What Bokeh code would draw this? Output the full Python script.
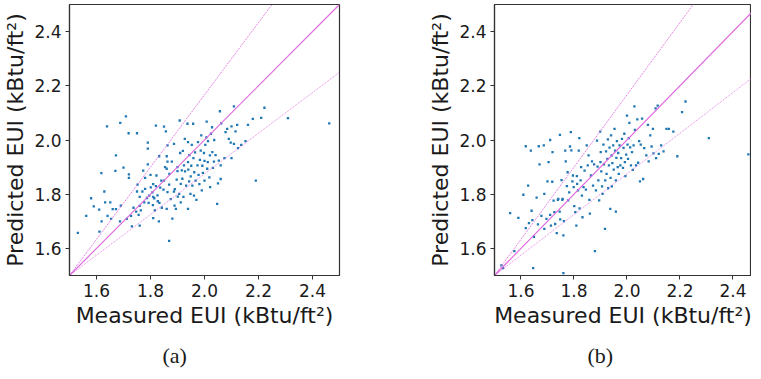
from bokeh.plotting import figure
from bokeh.layouts import row
from bokeh.models import Title, Range1d, FixedTicker
from bokeh.embed import file_html
from bokeh.resources import INLINE

# ---- data ----
meas_a = [1.531, 1.562, 1.58, 1.59, 1.61, 1.618, 1.611, 1.619, 1.629, 1.639, 1.632, 1.641, 1.651, 1.654,
          1.66, 1.67, 1.672, 1.672, 1.688, 1.687, 1.69, 1.70, 1.709, 1.712, 1.719, 1.72, 1.72, 1.728,
          1.731, 1.737, 1.747, 1.75, 1.75, 1.752, 1.756, 1.76, 1.76, 1.76, 1.764, 1.77, 1.773, 1.777,
          1.78, 1.78, 1.79, 1.79, 1.79, 1.787, 1.793, 1.795, 1.80, 1.801, 1.807, 1.809, 1.81, 1.81,
          1.81, 1.814, 1.816, 1.82, 1.82, 1.822, 1.826, 1.827, 1.831, 1.832, 1.833, 1.836, 1.84, 1.842,
          1.848, 1.85, 1.85, 1.854, 1.857, 1.86, 1.86, 1.863, 1.86, 1.863, 1.863, 1.869, 1.87, 1.869,
          1.875, 1.881, 1.879, 1.887, 1.887, 1.889, 1.89, 1.894, 1.897, 1.9, 1.9, 1.901, 1.906, 1.908,
          1.91, 1.912, 1.912, 1.916, 1.918, 1.92, 1.922, 1.924, 1.927, 1.928, 1.932, 1.937, 1.939, 1.939,
          1.939, 1.94, 1.943, 1.944, 1.948, 1.949, 1.953, 1.951, 1.955, 1.958, 1.959, 1.961, 1.962, 1.965,
          1.967, 1.97, 1.974, 1.976, 1.978, 1.981, 1.983, 1.986, 1.988, 1.99, 1.992, 1.994, 1.998, 2.0,
          2.0, 2.003, 2.007, 2.008, 2.01, 2.012, 2.013, 2.018, 2.02, 2.021, 2.024, 2.028, 2.029, 2.031,
          2.035, 2.036, 2.041, 2.047, 2.05, 2.053, 2.057, 2.06, 2.06, 2.062, 2.074, 2.078, 2.084, 2.09,
          2.097, 2.1, 2.1, 2.109, 2.109, 2.115, 2.121, 2.124, 2.136, 2.152, 2.161, 2.179, 2.19, 2.21,
          2.222, 2.309, 2.462]
pred_a = [1.657, 1.72, 1.785, 1.755, 1.743, 1.878, 1.662, 1.70, 1.81, 2.05, 1.77, 1.72, 1.77, 1.709,
          1.745, 1.886, 1.943, 1.745, 2.063, 1.70, 1.758, 1.898, 2.087, 1.709, 2.025, 1.86, 1.873, 1.72,
          1.681, 1.75, 1.736, 2.025, 1.81, 1.835, 1.724, 1.757, 1.79, 1.684, 1.74, 1.81, 1.887, 1.77,
          1.82, 1.86, 1.99, 1.968, 1.91, 1.786, 1.768, 1.795, 1.871, 1.825, 1.807, 1.76, 1.837, 1.79,
          1.712, 1.785, 1.74, 2.053, 1.83, 1.869, 1.796, 1.774, 1.70, 1.94, 1.768, 1.824, 1.85, 1.75,
          1.817, 2.049, 1.85, 1.9, 2.032, 1.94, 1.746, 1.92, 1.894, 1.98, 1.808, 1.835, 1.875, 1.628,
          1.782, 1.71, 1.92, 1.81, 1.986, 1.758, 1.819, 1.746, 1.854, 1.9, 1.885, 1.791, 1.801, 2.072,
          1.952, 1.838, 1.77, 1.888, 1.857, 1.96, 1.79, 1.906, 2.004, 1.884, 1.832, 2.06, 1.992, 1.918,
          1.746, 1.891, 1.847, 1.944, 1.801, 1.866, 1.982, 1.905, 1.832, 2.06, 1.933, 1.795, 1.881, 1.954,
          1.85, 1.779, 1.906, 1.992, 1.871, 1.837, 1.927, 1.961, 2.017, 1.814, 1.905, 1.879, 1.952, 1.85,
          1.923, 1.982, 2.01, 2.068, 1.894, 1.918, 1.996, 1.862, 1.943, 1.826, 2.023, 2.047, 1.955, 1.897,
          1.92, 2.0, 1.944, 1.764, 1.84, 1.924, 2.106, 1.906, 1.856, 2.061, 1.933, 2.029, 2.041, 2.004,
          1.99, 2.05, 1.933, 2.124, 1.986, 2.032, 2.056, 1.97, 1.982, 1.996, 2.056, 2.078, 1.85, 2.082,
          2.119, 2.081, 2.061]

meas_b = [1.526, 1.532, 1.559, 1.575, 1.59, 1.609, 1.618, 1.618, 1.627, 1.63, 1.637, 1.64, 1.643, 1.646,
          1.649, 1.659, 1.664, 1.667, 1.67, 1.677, 1.686, 1.688, 1.688, 1.696, 1.70, 1.704, 1.71, 1.71,
          1.713, 1.718, 1.719, 1.723, 1.726, 1.729, 1.735, 1.739, 1.741, 1.746, 1.747, 1.748, 1.753, 1.756,
          1.757, 1.76, 1.76, 1.762, 1.767, 1.769, 1.773, 1.776, 1.778, 1.782, 1.785, 1.788, 1.79, 1.794,
          1.796, 1.799, 1.801, 1.805, 1.809, 1.811, 1.812, 1.815, 1.818, 1.82, 1.821, 1.825, 1.827, 1.83,
          1.832, 1.836, 1.84, 1.845, 1.848, 1.852, 1.855, 1.858, 1.86, 1.864, 1.868, 1.872, 1.876, 1.879,
          1.883, 1.887, 1.889, 1.892, 1.895, 1.899, 1.9, 1.901, 1.903, 1.906, 1.908, 1.911, 1.913, 1.917,
          1.918, 1.921, 1.923, 1.926, 1.928, 1.929, 1.932, 1.934, 1.937, 1.938, 1.94, 1.942, 1.943, 1.945,
          1.948, 1.95, 1.953, 1.955, 1.958, 1.958, 1.96, 1.962, 1.965, 1.967, 1.969, 1.972, 1.975, 1.978,
          1.981, 1.985, 1.987, 1.99, 1.992, 1.994, 1.997, 2.0, 2.002, 2.004, 2.007, 2.009, 2.012, 2.015,
          2.019, 2.022, 2.025, 2.028, 2.03, 2.034, 2.039, 2.042, 2.046, 2.049, 2.052, 2.057, 2.061, 2.065,
          2.073, 2.079, 2.082, 2.088, 2.093, 2.098, 2.1, 2.108, 2.11, 2.116, 2.12, 2.129, 2.138, 2.149,
          2.158, 2.175, 2.19, 2.208, 2.221, 2.309, 2.458]
pred_b = [1.537, 1.527, 1.73, 1.59, 1.713, 1.798, 1.977, 1.675, 1.832, 1.693, 1.961, 1.739, 1.704, 1.527,
          1.643, 1.787, 1.689, 1.977, 1.91, 1.72, 1.98, 1.801, 1.672, 1.709, 1.847, 1.918, 1.724, 2.0,
          1.684, 1.846, 1.955, 1.776, 1.734, 1.69, 1.656, 1.779, 1.783, 1.736, 2.019, 1.707, 1.852, 1.779,
          1.783, 1.648, 1.509, 1.701, 1.961, 1.921, 1.83, 1.881, 1.777, 1.807, 1.976, 2.029, 1.962, 1.847,
          1.869, 1.826, 1.756, 1.734, 1.684, 1.867, 1.838, 1.814, 1.961, 2.007, 1.748, 1.851, 1.9, 1.795,
          1.715, 1.826, 1.887, 1.817, 1.98, 1.906, 1.943, 1.779, 1.728, 1.869, 1.921, 1.832, 1.91, 1.59,
          1.814, 1.998, 1.902, 1.851, 1.777, 2.031, 1.918, 1.955, 1.884, 1.829, 1.801, 1.983, 1.91, 1.672,
          1.851, 1.958, 1.875, 1.93, 2.002, 1.822, 1.906, 1.972, 1.746, 1.86, 2.017, 1.943, 1.829, 1.915,
          1.98, 1.891, 2.041, 1.961, 1.851, 1.736, 1.934, 1.996, 1.9, 1.952, 1.875, 1.98, 1.906, 1.933,
          2.004, 1.897, 1.971, 2.023, 1.918, 1.867, 1.946, 2.09, 1.983, 1.93, 2.007, 2.063, 1.973, 1.906,
          1.955, 1.89, 1.98, 2.124, 2.037, 1.906, 2.076, 1.916, 1.996, 1.847, 1.983, 2.079, 1.856, 1.97,
          1.943, 2.056, 1.921, 2.017, 1.976, 2.041, 1.951, 2.117, 1.933, 2.127, 1.949, 1.98, 1.958, 2.041,
          2.041, 2.031, 1.94, 2.103, 2.142, 2.007, 1.947]

ticks = [1.6, 1.8, 2.0, 2.2, 2.4]
tick_labels = ["1.6", "1.8", "2.0", "2.2", "2.4"]
axis_lo, axis_hi = 1.5, 2.5
# reference lines through (1.5, 1.5): y = 1.5 + slope * (x - 1.5)
ref_slopes = [4.0 / 3.0, 1.0, 0.75]
ref_dash = ["2 1", None, "1 1"]
ref_width = [0.8, 1.1, 0.8]

x_title = "Measured EUI (kBtu/ft²)"
y_title = "Predicted EUI (kBtu/ft²)"
captions = ["(a)", "(b)"]

LINE_COL = "#df66df"
PT_COL = "#1f77b4"
TXT = "#1a1a1a"


def panel(meas, pred, x_end, caption, left, fw, right):
    p = figure(frame_width=fw, frame_height=271,
               x_range=Range1d(axis_lo, x_end), y_range=Range1d(axis_lo, axis_hi),
               output_backend="svg", toolbar_location=None,
               min_border_left=left, min_border_right=right,
               min_border_top=4, min_border_bottom=88)
    p.xgrid.visible = False
    p.ygrid.visible = False
    p.outline_line_color = "#333333"
    p.outline_line_width = 1.2
    p.outline_line_alpha = 1
    p.background_fill_color = "white"
    p.border_fill_color = "white"

    p.scatter(meas, pred, marker="square", size=2.3, fill_color=PT_COL,
              line_color=None)
    xs = [axis_lo, axis_hi]
    for s, d, w in zip(ref_slopes, ref_dash, ref_width):
        ys = [axis_lo + s * (x - axis_lo) for x in xs]
        if d is None:
            p.line(xs, ys, line_color=LINE_COL, line_width=w)
        else:
            p.line(xs, ys, line_color=LINE_COL, line_width=w, line_dash=d)

    for ax in (p.xaxis[0], p.yaxis[0]):
        ax.ticker = FixedTicker(ticks=ticks)
        ax.major_label_overrides = {t: l for t, l in zip(ticks, tick_labels)}
        ax.axis_line_color = "#333333"
        ax.axis_line_width = 1.2
        ax.major_tick_line_color = "#333333"
        ax.major_tick_in = 0
        ax.major_tick_out = 4
        ax.minor_tick_line_color = None
        ax.major_label_standoff = 4
        ax.major_label_text_font = "DejaVu Sans"
        ax.major_label_text_font_size = "17px"
        ax.major_label_text_color = TXT
        ax.axis_label_text_font = "DejaVu Sans"
        ax.axis_label_text_font_size = "22px"
        ax.axis_label_text_font_style = "normal"
        ax.axis_label_text_color = TXT
        ax.axis_label_standoff = 3
    p.xaxis.axis_label = x_title
    p.yaxis.axis_label = y_title

    t = Title(text=caption, align="left", offset=93, standoff=21,
              text_font="Liberation Serif", text_font_size="22px",
              text_font_style="normal", text_color=TXT)
    p.add_layout(t, "below")
    return p


p1 = panel(meas_a, pred_a, 2.5, captions[0], 63, 270, 39)
p2 = panel(meas_b, pred_b, 2.47, captions[1], 116, 257, 0)

layout = row(p1, p2)
open("out.html", "w").write(file_html(layout, INLINE))
